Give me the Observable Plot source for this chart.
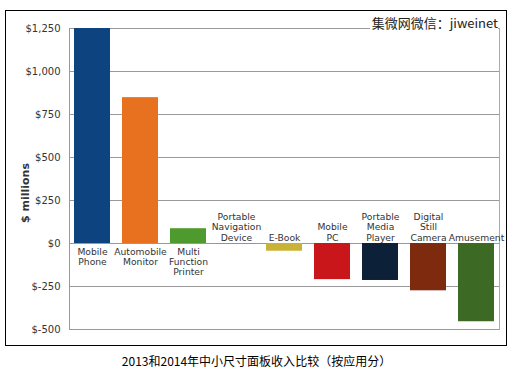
<!DOCTYPE html>
<html><head><meta charset="utf-8">
<script src="https://cdn.jsdelivr.net/npm/d3@7"></script>
<script src="https://cdn.jsdelivr.net/npm/@observablehq/plot@0.6"></script>
<style>
html,body{margin:0;padding:0;background:#fff;}
#wrap{position:relative;width:513px;height:376px;overflow:hidden;}
#border{position:absolute;left:5px;top:10px;width:500px;height:334px;border:1.5px solid #000;pointer-events:none;}
#wm{position:absolute;right:15px;top:15px;background:#fff;font:13px "Noto Sans CJK SC",sans-serif;color:#222;padding-left:2px;line-height:16px;}
#cap{position:absolute;left:0;width:513px;top:352px;text-align:center;font:12px "Noto Sans CJK SC",sans-serif;color:#000;}
#chart{position:absolute;left:0;top:0;}
</style></head>
<body><div id="wrap"><div id="chart"></div><div id="border"></div><div id="wm"></div><div id="cap"></div></div>
<script>
const categories = ["Mobile\nPhone","Automobile\nMonitor","Multi\nFunction\nPrinter","Portable\nNavigation\nDevice","E-Book","Mobile\nPC","Portable\nMedia\nPlayer","Digital\nStill\nCamera","Amusement"];
const values = [1250, 848, 86, -2, -45, -210, -215, -275, -455];
const colors = ["#0d4480","#e8711f","#4e9a2e","#888888","#c9b336","#c9161a","#0c2038","#7d2a0e","#3c6a24"];
const yTicks = [-500,-250,0,250,500,750,1000,1250];
const yLabel = "$ millions";
const watermark = "集微网微信：jiweinet";
const caption = "2013和2014年中小尺寸面板收入比较（按应用分）";

const data = categories.map((c,i)=>({cat:c, value:values[i], color:colors[i]}));
const fmt = d => "$" + (d<0?"-":"") + d3.format(",")(Math.abs(d));
const FF = "DejaVu Sans, Noto Sans, sans-serif";

const chart = Plot.plot({
  width: 513, height: 350,
  marginLeft: 69, marginRight: 14, marginTop: 28, marginBottom: 21,
  style: {fontFamily: FF, background: "#fff"},
  x: {domain: categories, paddingInner: 0.25, paddingOuter: 0.1, axis: null},
  y: {domain: [-500, 1250], ticks: yTicks, tickFormat: fmt, label: null},
  marks: [
    Plot.gridY(yTicks, {stroke: "#999", strokeOpacity: 1, strokeWidth: 1}),
    Plot.frame({anchor: "left", stroke: "#999"}),
    Plot.frame({anchor: "right", stroke: "#aaa"}),
    Plot.axisY({ticks: yTicks, tickFormat: fmt, tickSize: 0, tickPadding: 9, fontSize: 10, fill: "#333", label: null}),
    Plot.barY(data, {x: "cat", y: "value", fill: "color"}),
    Plot.text(data.filter(d=>d.value>=0), {x: "cat", y: 0, text: "cat", lineAnchor: "top", dy: 4, fontSize: 9.2, fontWeight: 500, lineHeight: 1.12, fill: "#333"}),
    Plot.text(data.filter(d=>d.value<0), {x: "cat", y: 0, text: "cat", lineAnchor: "bottom", dy: -3, fontSize: 9.2, fontWeight: 500, lineHeight: 1.12, fill: "#333"}),
    Plot.text([yLabel], {frameAnchor: "left", text: d=>d, rotate: -90, dx: -44, dy: 44, fontSize: 11, fontWeight: "bold", fill: "#333"})
  ]
});
document.getElementById("chart").appendChild(chart);
document.getElementById("wm").textContent = watermark;
document.getElementById("cap").textContent = caption;
</script></body></html>
